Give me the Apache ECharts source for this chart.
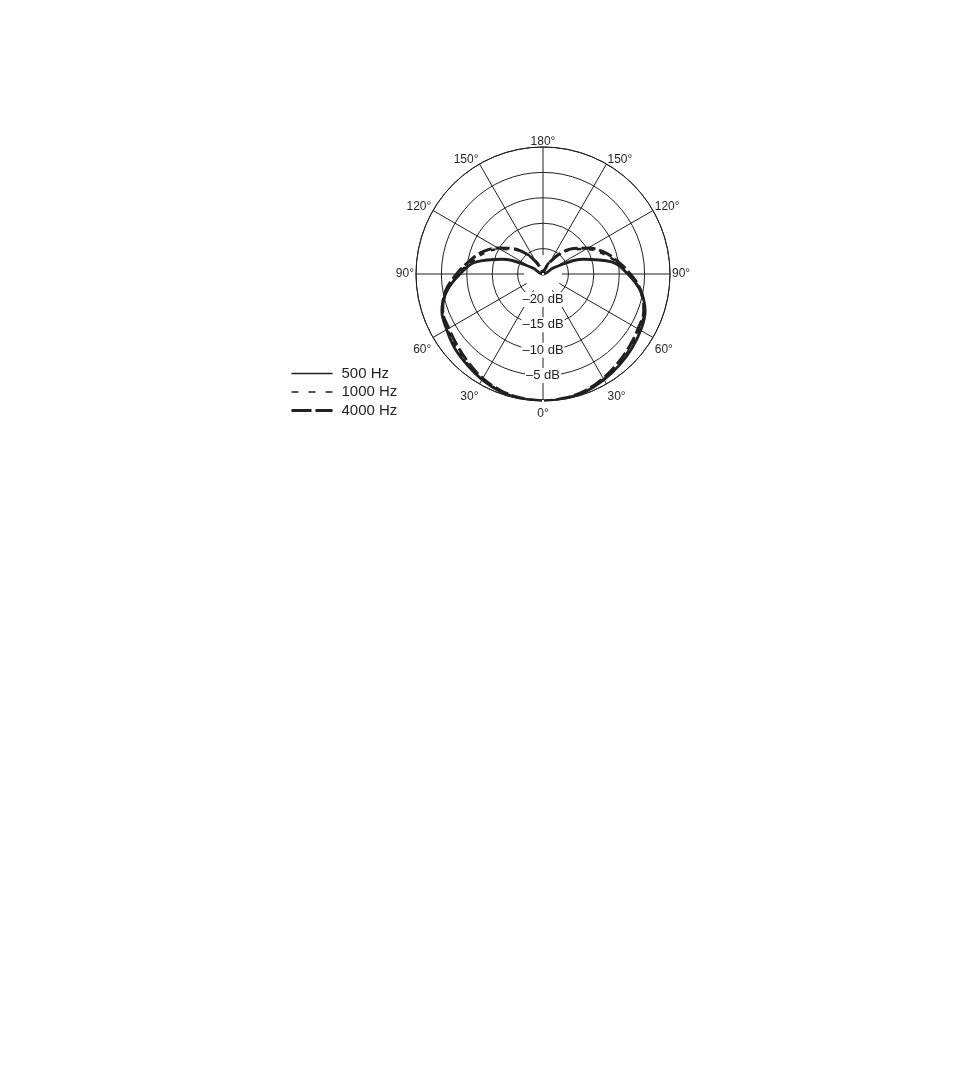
<!DOCTYPE html>
<html>
<head>
<meta charset="utf-8">
<script src="https://cdn.jsdelivr.net/npm/echarts@6/dist/echarts.min.js"></script>
<style>
html, body { margin: 0; background: #fff; }
#main { width: 954px; height: 1091px; }
</style>
</head>
<body>
<div id="main"></div>
<script>
// angle in degrees (0 = front), level in dB
var angles = [0, 10, 20, 30, 40, 50, 60, 70, 80, 90, 100, 110, 120, 130, 140, 150, 160, 170, 180,
              190, 200, 210, 220, 230, 240, 250, 260, 270, 280, 290, 300, 310, 320, 330, 340, 350, 360];

var hz500 = [0, -0.1, -0.4, -1.0, -1.7, -2.3, -3.1, -3.8, -5.8, -8.7, -11.5, -16.5, -22.5, -25, -25, -25, -25, -25, -25,
             -25, -25, -25, -25, -25, -22.5, -16.5, -11.3, -8.3, -5.5, -3.6, -2.8, -2.2, -1.6, -1.0, -0.4, -0.1, 0];

var hz1000 = [0, -0.1, -0.5, -1.1, -1.9, -2.6, -3.3, -4.0, -5.8, -8.3, -10.8, -12.8, -15.2, -17.5, -19.8, -22, -24, -25, -25,
              -25, -24, -22, -19.8, -17.5, -15.2, -12.8, -10.5, -8.0, -5.6, -3.8, -3.1, -2.5, -1.8, -1.1, -0.5, -0.1, 0];

var hz4000 = [0, -0.2, -0.6, -1.3, -2.2, -3.0, -3.6, -4.0, -5.5, -8.0, -10.3, -12.3, -14.8, -17.2, -19.8, -22.3, -24.2, -25, -25,
              -25, -24.2, -22.3, -19.8, -17.2, -14.8, -12.3, -10.2, -7.8, -5.4, -3.9, -3.4, -2.8, -2.1, -1.3, -0.6, -0.2, 0];

var spokeAngles = [0, 30, 60, 90, 120, 150, 180, 210, 240, 270, 300, 330];
var spokeInner = -21.3;
var dbLabels = [-20, -15, -10, -5];

var ink = '#231f20';

function pairs(values) {
    return angles.map(function (a, i) { return [values[i], a]; });
}

var myChart = echarts.init(document.getElementById('main'));

var series = [];
spokeAngles.forEach(function (a) {
    series.push({
        type: 'line',
        coordinateSystem: 'polar',
        data: [[spokeInner, a], [0, a]],
        symbol: 'none',
        silent: true,
        z: 1,
        lineStyle: { color: ink, width: 1 }
    });
});

series.push({
    name: '500 Hz',
    type: 'line',
    coordinateSystem: 'polar',
    data: pairs(hz500),
    symbol: 'none',
    smooth: 0.4,
    z: 3,
    itemStyle: { color: ink },
    lineStyle: { color: ink, width: 2.8, type: 'solid' }
});
series.push({
    name: '1000 Hz',
    type: 'line',
    coordinateSystem: 'polar',
    data: pairs(hz1000),
    symbol: 'none',
    smooth: 0.4,
    z: 3,
    itemStyle: { color: ink },
    lineStyle: { color: ink, width: 2.5, type: [5, 7] }
});
series.push({
    name: '4000 Hz',
    type: 'line',
    coordinateSystem: 'polar',
    data: pairs(hz4000),
    symbol: 'none',
    smooth: 0.4,
    z: 3,
    itemStyle: { color: ink },
    lineStyle: { color: ink, width: 3, type: [14, 4] }
});

option = {
    backgroundColor: '#fff',
    animation: false,
    textStyle: { fontFamily: 'Liberation Sans, Arial, sans-serif', color: ink },
    legend: {
        orient: 'vertical',
        left: 290,
        top: 366,
        padding: 0,
        itemWidth: 41,
        itemHeight: 14,
        itemGap: 3.5,
        selectedMode: false,
        itemStyle: { opacity: 0 },
        textStyle: { fontSize: 15, color: ink, padding: [0, 0, 0, 4] },
        data: [
            { name: '500 Hz', lineStyle: { width: 1.5, type: 'solid' } },
            { name: '1000 Hz', lineStyle: { width: 1.5, type: [7, 10] } },
            { name: '4000 Hz', lineStyle: { width: 3, type: [20, 4] } }
        ]
    },
    polar: {
        center: [543, 274],
        radius: 127
    },
    angleAxis: {
        type: 'value',
        min: 0,
        max: 360,
        interval: 30,
        startAngle: 270,
        clockwise: true,
        axisLine: { show: true, lineStyle: { color: ink, width: 1 } },
        axisTick: { show: false },
        splitLine: { show: false },
        axisLabel: {
            margin: 2,
            padding: [5, 0, -3, 0],
            fontSize: 12,
            color: ink,
            formatter: function (v) {
                if (v === 360) return '';
                return (v > 180 ? 360 - v : v) + '°';
            }
        }
    },
    radiusAxis: {
        type: 'value',
        min: -25,
        max: 0,
        interval: 5,
        z: 5,
        axisLine: { show: false },
        axisTick: { show: false },
        splitLine: { show: true, lineStyle: { color: ink, width: 1 } },
        axisLabel: {
            margin: 0,
            align: 'center',
            verticalAlign: 'middle',
            fontSize: 13,
            color: ink,
            backgroundColor: '#fff',
            padding: [1, 1],
            formatter: function (v) {
                return dbLabels.indexOf(v) >= 0 ? '–' + Math.abs(v) + ' dB' : '';
            }
        }
    },
    series: series
};

myChart.setOption(option);
</script>
</body>
</html>
